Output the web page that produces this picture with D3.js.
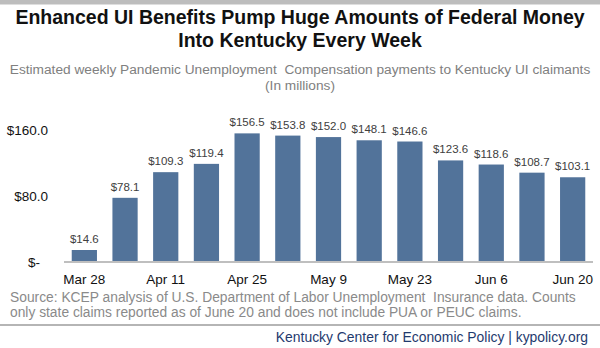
<!DOCTYPE html>
<html>
<head>
<meta charset="utf-8">
<script src="https://cdn.jsdelivr.net/npm/d3@7"></script>
<style>
  html, body { margin: 0; padding: 0; background: #fff; }
  svg { display: block; font-family: "Liberation Sans", Arial, sans-serif; }
</style>
</head>
<body>
<svg id="chart" width="600" height="348"></svg>
<script>
const weeks = ["Mar 28","Apr 4","Apr 11","Apr 18","Apr 25","May 2","May 9","May 16","May 23","May 30","Jun 6","Jun 13","Jun 20"];
const payments = [14.6, 78.1, 109.3, 119.4, 156.5, 153.8, 152.0, 148.1, 146.6, 123.6, 118.6, 108.7, 103.1];
const yTicks = [0, 80, 160];
const yTickLabels = ["$-", "$80.0", "$160.0"];
const shownWeeks = ["Mar 28","Apr 11","Apr 25","May 9","May 23","Jun 6","Jun 20"];
const titleLines = ["Enhanced UI Benefits Pump Huge Amounts of Federal Money", "Into Kentucky Every Week"];
const subtitleLines = ["Estimated weekly Pandemic Unemployment  Compensation payments to Kentucky UI claimants", "(In millions)"];
const sourceLines = ["Source: KCEP analysis of U.S. Department of Labor Unemployment  Insurance data. Counts", "only state claims reported as of June 20 and does not include PUA or PEUC claims."];
const footer = "Kentucky Center for Economic Policy | kypolicy.org";

const svg = d3.select("#chart");

// top gray strip
svg.append("rect").attr("x", 0).attr("y", 0).attr("width", 600).attr("height", 4.5).attr("fill", "#bdbdbd");

// title
svg.append("g").selectAll("text").data(titleLines).join("text")
  .attr("x", 300).attr("y", (d, i) => 24 + i * 23)
  .attr("text-anchor", "middle")
  .attr("font-size", 19.5).attr("font-weight", "bold").attr("fill", "#111")
  .style("white-space", "pre")
  .text(d => d);

// subtitle
svg.append("g").selectAll("text").data(subtitleLines).join("text")
  .attr("x", 300).attr("y", (d, i) => 74 + i * 16)
  .attr("text-anchor", "middle")
  .attr("font-size", 13.7).attr("fill", "#808080")
  .style("white-space", "pre")
  .text(d => d);

const x = d3.scaleBand().domain(weeks).range([64, 593]).paddingInner(0.38).paddingOuter(0.19);
const y = d3.scaleLinear().domain([0, 160]).range([262, 130.5]);

// bars
svg.append("g").selectAll("rect").data(payments).join("rect")
  .attr("x", (d, i) => x(weeks[i]))
  .attr("width", x.bandwidth())
  .attr("y", d => y(d))
  .attr("height", d => y(0) - y(d))
  .attr("fill", "#52739a");

// value labels
svg.append("g").selectAll("text").data(payments).join("text")
  .attr("x", (d, i) => x(weeks[i]) + x.bandwidth() / 2)
  .attr("y", d => y(d) - 7)
  .attr("text-anchor", "middle")
  .attr("font-size", 11.5).attr("fill", "#404040")
  .text(d => "$" + d.toFixed(1));

// y axis labels
const yAxis = d3.axisLeft(y).tickValues(yTicks).tickSize(0).tickPadding(0)
  .tickFormat((d, i) => yTickLabels[i]);
const yg = svg.append("g").attr("transform", "translate(48,0)").call(yAxis);
yg.select(".domain").remove();
yg.selectAll("text").attr("font-size", 13.5).attr("fill", "#111").attr("font-family", "Liberation Sans, Arial, sans-serif")
  .attr("dx", (d) => d === 0 ? -8 : 0);

// x axis
const xAxis = d3.axisBottom(x).tickSize(0).tickPadding(0)
  .tickFormat(d => shownWeeks.includes(d) ? d : "");
const xg = svg.append("g").attr("transform", "translate(0,262)").call(xAxis);
xg.select(".domain").attr("stroke", "#bfbfbf").attr("stroke-width", 2).attr("d", "M64,0H593");
xg.selectAll("text").attr("font-size", 13.5).attr("fill", "#111").attr("font-family", "Liberation Sans, Arial, sans-serif")
  .attr("dy", "0").attr("y", 22);

// source
svg.append("g").selectAll("text").data(sourceLines).join("text")
  .attr("x", 10).attr("y", (d, i) => 302 + i * 14.5)
  .attr("font-size", 13.8).attr("fill", "#8a8a8a")
  .style("white-space", "pre")
  .text(d => d);

// separator
svg.append("line").attr("x1", 0).attr("x2", 600).attr("y1", 325).attr("y2", 325)
  .attr("stroke", "#b5b5b5").attr("stroke-width", 2);

// footer
svg.append("text").attr("x", 588).attr("y", 342)
  .attr("text-anchor", "end").attr("font-size", 13.9).attr("fill", "#1f3a6e")
  .text(footer);
</script>
</body>
</html>
